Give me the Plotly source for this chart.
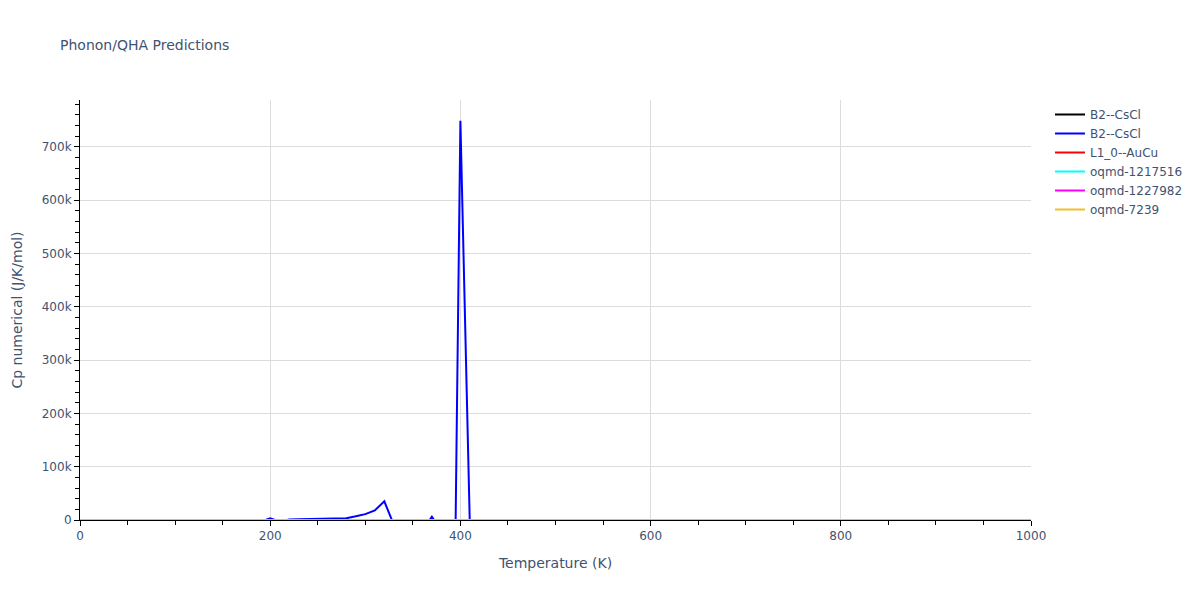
import plotly.graph_objects as go

# Temperatures (K) for B2--CsCl (blue), step 10 K
temps_blue = list(range(0, 1001, 10))
cp_blue = [
    0, 2, 8, 15, 21, 26, 30, 33, 36, 38,            # 0-90
    40, 41, 42, 43, 44, 44, 45, 45, 46, -3000,      # 100-190
    3000, -3000, 1000, 1300, 1700, 2000, 2400, 2800, 3400, 7000,   # 200-290
    11000, 18000, 35000, -9000, 50, 50, -20000, 6000, -20000, -747000,  # 300-390
    748700, -15000, 50, 50, 50, 50, 50, 50, 50, 50,  # 400-490
    50, 50, 50, 50, 50, 50, 50, 50, 50, 50,          # 500-590
    50, 50, 50, 50, 50, 50, 50, 50, 50, 50,          # 600-690
    50, 50, 50, 50, 50, 50, 50, 50, 50, 50,          # 700-790
    50, 50, 50, 50, 50, 50, 50, 50, 50, 50,          # 800-890
    50, 50, 50, 50, 50, 50, 50, 50, 50, 50,          # 900-990
    50,                                              # 1000
]

# Other series: small Cp values (invisible at this scale)
temps_other = [0, 50, 100, 150, 200, 300, 400, 500, 600, 700, 800, 900, 1000]
cp_b2_black = [0, 22, 38, 43, 46, 48, 49, 49.5, 50, 50, 50.5, 50.5, 51]
cp_l10 = [0, 20, 37, 43, 46, 48, 49, 49.5, 50, 50, 50.5, 51, 51]
cp_oqmd_1217516 = [0, 21, 37, 43, 45, 47, 48, 49, 49.5, 50, 50, 50.5, 50.5]
cp_oqmd_1227982 = [0, 23, 38, 44, 46, 48, 49, 49.5, 50, 50.5, 50.5, 51, 51]
cp_oqmd_7239 = [0, 22, 38, 43, 46, 48, 49, 49.5, 50, 50, 50.5, 50.5, 51]

series = [
    ("B2--CsCl", temps_other, cp_b2_black, "black"),
    ("B2--CsCl", temps_blue, cp_blue, "blue"),
    ("L1_0--AuCu", temps_other, cp_l10, "red"),
    ("oqmd-1217516", temps_other, cp_oqmd_1217516, "cyan"),
    ("oqmd-1227982", temps_other, cp_oqmd_1227982, "magenta"),
    ("oqmd-7239", temps_other, cp_oqmd_7239, "#f0bf2b"),
]

fig = go.Figure()
for name, xs, ys, color in series:
    fig.add_trace(go.Scatter(x=xs, y=ys, mode="lines", name=name,
                             line=dict(color=color, width=2)))

axis_common = dict(
    showline=True, linecolor="black", linewidth=1,
    ticks="outside", ticklen=5, tickcolor="black",
    showgrid=True, gridcolor="#dcdcdc", zeroline=False,
    tickfont=dict(color="#3f5270", size=12),
)

fig.update_layout(
    width=1200, height=600,
    title=dict(text="Phonon/QHA Predictions", x=0.05, font=dict(size=14)),
    template="plotly_white",
    plot_bgcolor="white", paper_bgcolor="white",
    font=dict(family="Verdana, DejaVu Sans, sans-serif", color="#3f5270", size=12),
    margin=dict(l=80, t=100, b=80),
    xaxis=dict(title=dict(text="Temperature (K)", font=dict(size=14)), range=[0, 1000], dtick=200,
               minor=dict(ticks="outside", dtick=50, ticklen=4, tickcolor="black", showgrid=False),
               **axis_common),
    yaxis=dict(title=dict(text="Cp numerical (J/K/mol)", font=dict(size=14)), range=[0, 787600], dtick=100000,
               minor=dict(ticks="outside", dtick=20000, ticklen=4, tickcolor="black", showgrid=False),
               **axis_common),
)

fig.write_html("out.html", config={"displayModeBar": False},
               post_script="document.body.style.margin='0px';")
